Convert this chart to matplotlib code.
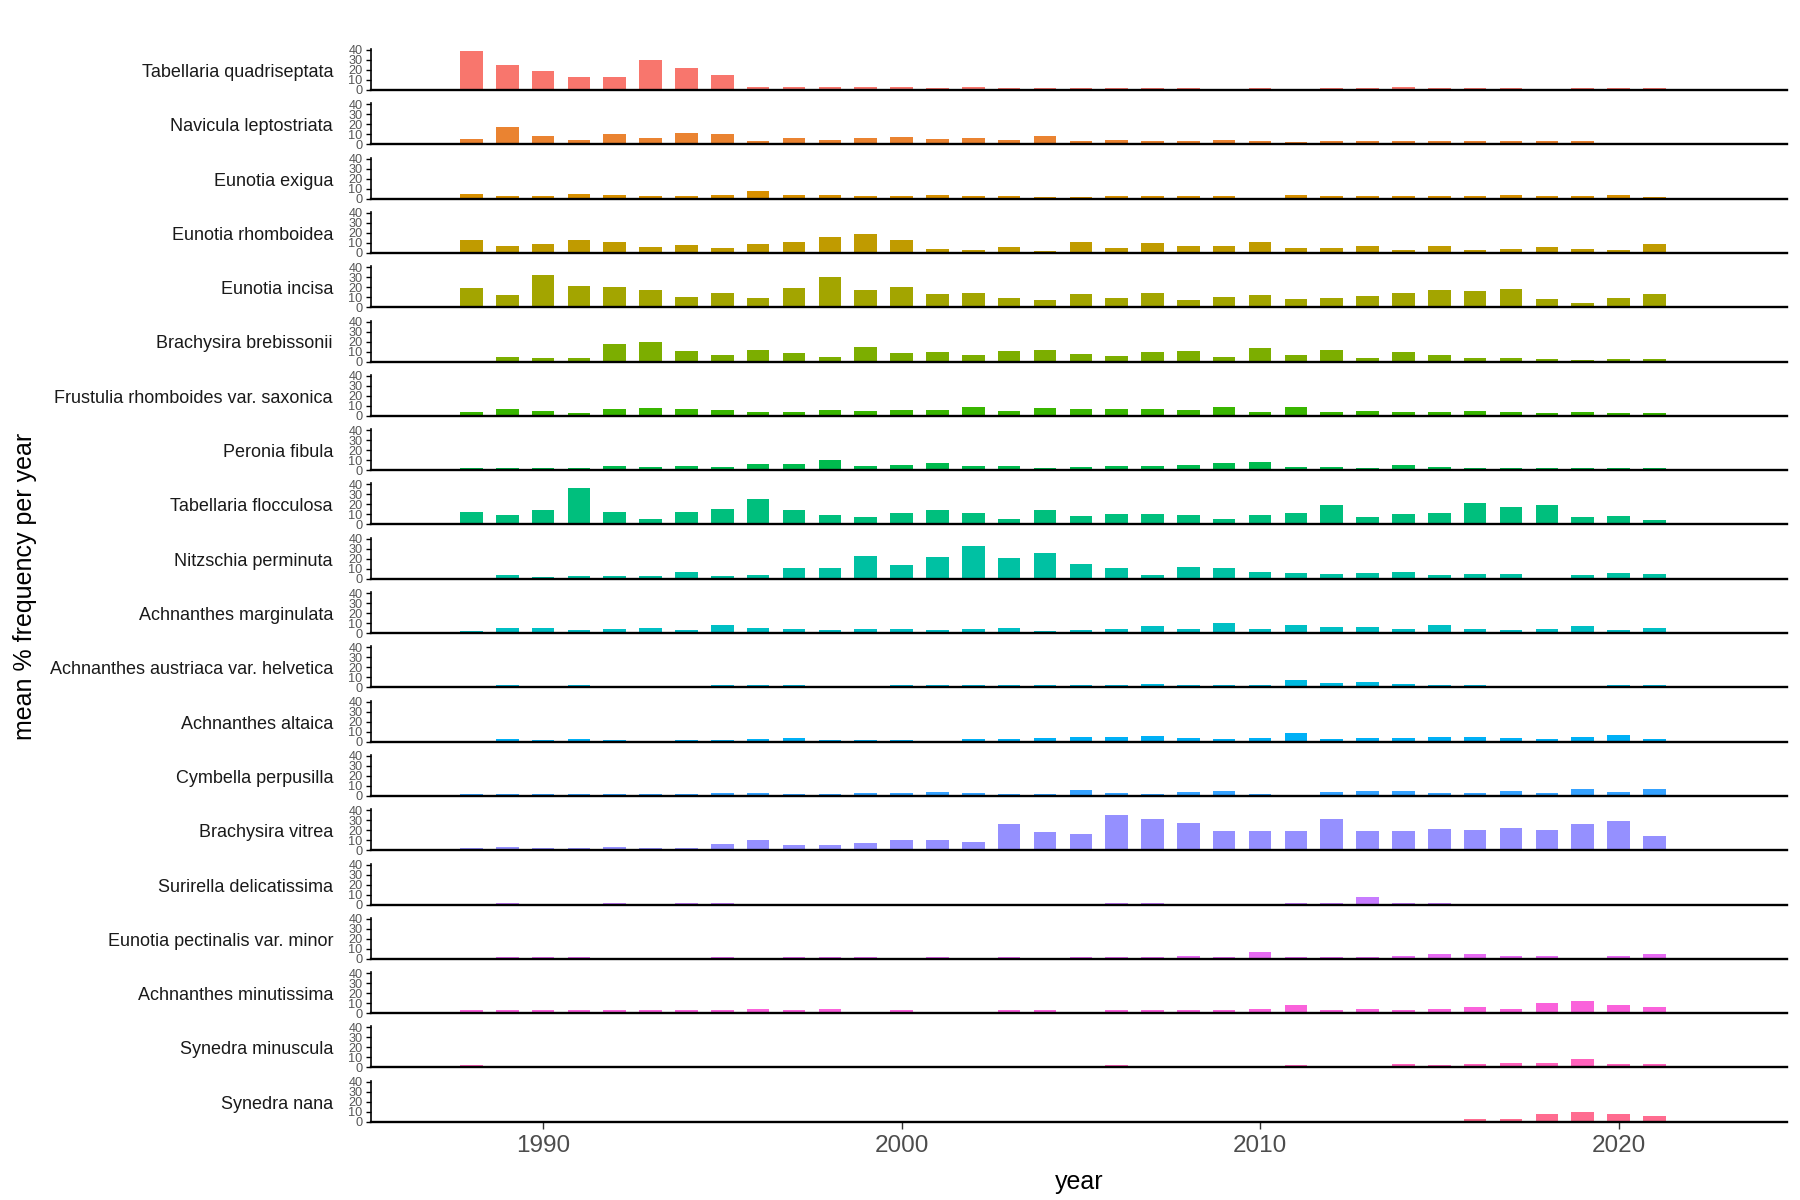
import matplotlib
matplotlib.use('Agg')
import matplotlib.pyplot as plt

# ---------------------------------------------------------------------------
# data: mean % frequency per year, one list per taxon (0 = not recorded)
# ---------------------------------------------------------------------------
years = list(range(1988, 2022))

species = ['Tabellaria quadriseptata', 'Navicula leptostriata', 'Eunotia exigua',
           'Eunotia rhomboidea', 'Eunotia incisa', 'Brachysira brebissonii',
           'Frustulia rhomboides var. saxonica', 'Peronia fibula',
           'Tabellaria flocculosa', 'Nitzschia perminuta', 'Achnanthes marginulata',
           'Achnanthes austriaca var. helvetica', 'Achnanthes altaica',
           'Cymbella perpusilla', 'Brachysira vitrea', 'Surirella delicatissima',
           'Eunotia pectinalis var. minor', 'Achnanthes minutissima',
           'Synedra minuscula', 'Synedra nana']

#            1988                         1998                          2008                          2018
tab_quad  = [39, 25, 19, 13, 13, 30, 22, 15, 3, 3, 3, 3, 3, 2, 3, 2, 2, 2, 2, 2, 2, 0, 2, 0, 2, 2, 3, 2, 2, 2, 0, 2, 2, 2]
nav_lept  = [5, 17, 8, 4, 10, 6, 11, 10, 3, 6, 4, 6, 7, 5, 6, 4, 8, 3, 4, 3, 3, 4, 3, 2, 3, 3, 3, 3, 3, 3, 3, 3, 0, 0]
eun_exig  = [5, 3, 3, 5, 4, 3, 3, 4, 8, 4, 4, 3, 3, 4, 3, 3, 2, 2, 3, 3, 3, 3, 0, 4, 3, 3, 3, 3, 3, 4, 3, 3, 4, 2]
eun_rhom  = [13, 7, 9, 13, 11, 6, 8, 5, 9, 11, 16, 19, 13, 4, 3, 6, 2, 11, 5, 10, 7, 7, 11, 5, 5, 7, 3, 7, 3, 4, 6, 4, 3, 9]
eun_inci  = [19, 12, 32, 21, 20, 17, 10, 14, 9, 19, 30, 17, 20, 13, 14, 9, 7, 13, 9, 14, 7, 10, 12, 8, 9, 11, 14, 17, 16, 18, 8, 4, 9, 13]
bra_breb  = [0, 5, 4, 4, 18, 20, 11, 7, 12, 9, 5, 15, 9, 10, 7, 11, 12, 8, 6, 10, 11, 5, 14, 7, 12, 4, 10, 7, 4, 4, 3, 2, 3, 3]
fru_saxo  = [4, 7, 5, 3, 7, 8, 7, 6, 4, 4, 6, 5, 6, 6, 9, 5, 8, 7, 7, 7, 6, 9, 4, 9, 4, 5, 4, 4, 5, 4, 3, 4, 3, 3]
per_fibu  = [2, 2, 2, 2, 4, 3, 4, 3, 6, 6, 10, 4, 5, 7, 4, 4, 2, 3, 4, 4, 5, 7, 8, 3, 3, 2, 5, 3, 2, 2, 2, 2, 2, 2]
tab_floc  = [12, 9, 14, 36, 12, 5, 12, 15, 25, 14, 9, 7, 11, 14, 11, 5, 14, 8, 10, 10, 9, 5, 9, 11, 19, 7, 10, 11, 21, 17, 19, 7, 8, 4]
nit_perm  = [0, 4, 2, 3, 3, 3, 7, 3, 4, 11, 11, 23, 14, 22, 33, 21, 26, 15, 11, 4, 12, 11, 7, 6, 5, 6, 7, 4, 5, 5, 0, 4, 6, 5]
ach_marg  = [2, 5, 5, 3, 4, 5, 3, 8, 5, 4, 3, 4, 4, 3, 4, 5, 2, 3, 4, 7, 4, 10, 4, 8, 6, 6, 4, 8, 4, 3, 4, 7, 3, 5]
ach_helv  = [0, 2, 0, 2, 0, 0, 0, 2, 2, 2, 1.5, 0, 2, 2, 2, 2, 2, 2, 2, 3, 2, 2, 2, 7, 4, 5, 3, 2, 2, 0, 1.5, 0, 2, 2]
ach_alta  = [0, 3, 2, 3, 2, 0, 2, 2, 3, 4, 2, 2, 2, 0, 3, 3, 4, 5, 5, 6, 4, 3, 4, 9, 3, 4, 4, 5, 5, 4, 3, 5, 7, 3]
cym_perp  = [2, 2, 2, 2, 2, 2, 2, 3, 3, 2, 2, 3, 3, 4, 3, 2, 2, 6, 3, 2, 4, 5, 2, 0, 4, 5, 5, 3, 3, 5, 3, 7, 4, 7]
bra_vitr  = [2, 3, 2, 2, 3, 2, 2, 6, 10, 5, 5, 7, 10, 10, 8, 26, 18, 16, 35, 31, 27, 19, 19, 19, 31, 19, 19, 21, 20, 22, 20, 26, 29, 14]
sur_deli  = [0, 1.5, 0, 0, 1.5, 0, 1.5, 1.5, 0, 0, 0, 0, 0, 0, 0, 0, 0, 0, 1.5, 1.5, 0, 0, 0, 2, 1.5, 8, 1.5, 2, 0, 0, 0, 0, 0, 0]
eun_pect  = [0, 2, 2, 2, 0, 0, 0, 2, 0, 2, 2, 2, 0, 2, 0, 2, 0, 2, 2, 2, 3, 2, 7, 2, 2, 2, 3, 5, 5, 3, 3, 0, 3, 5]
ach_minu  = [3, 3, 3, 3, 3, 3, 3, 3, 4, 3, 4, 0, 3, 0, 0, 3, 3, 0, 3, 3, 3, 3, 4, 8, 3, 4, 3, 4, 6, 4, 10, 12, 8, 6]
syn_minu  = [2, 0, 0, 0, 0, 0, 0, 0, 0, 0, 0, 0, 0, 0, 0, 0, 0, 0, 2, 0, 0, 0, 0, 2, 0, 0, 3, 2, 3, 4, 4, 8, 3, 3]
syn_nana  = [0, 0, 0, 0, 0, 0, 0, 0, 0, 0, 0, 0, 0, 0, 0, 0, 0, 0, 0, 0, 0, 0, 0, 0, 0, 0, 0, 0, 3, 3, 8, 10, 8, 6]

series = [tab_quad, nav_lept, eun_exig, eun_rhom, eun_inci, bra_breb, fru_saxo,
          per_fibu, tab_floc, nit_perm, ach_marg, ach_helv, ach_alta, cym_perp,
          bra_vitr, sur_deli, eun_pect, ach_minu, syn_minu, syn_nana]

# ggplot default hue palette, 20 levels
colours = ['#F8766D', '#EA8331', '#D89000', '#C09B00', '#A3A500', '#7CAE00',
           '#39B600', '#00BB4E', '#00BF7D', '#00C1A3', '#00BFC4', '#00BAE0',
           '#00B0F6', '#35A2FF', '#9590FF', '#C77CFF', '#E76BF3', '#FA62DB',
           '#FF62BC', '#FF6C90']

yticks = [0, 10, 20, 30, 40]
xticks = [1990, 2000, 2010, 2020]

# ---------------------------------------------------------------------------
# plot
# ---------------------------------------------------------------------------
plt.rcParams['font.family'] = ['Liberation Sans', 'DejaVu Sans']

W, H = 1800, 1200
fig = plt.figure(figsize=(18, 12), dpi=100)

left_px, right_px = 371, 1787
first_base, step, panel_h = 90, 54.3, 41

for i, (name, vals, col) in enumerate(zip(species, series, colours)):
    base = first_base + step * i
    ax = fig.add_axes([left_px / W, 1 - base / H, (right_px - left_px) / W, panel_h / H])
    ax.bar(years, vals, width=0.63, color=col, linewidth=0)
    ax.set_xlim(1985.2, 2024.7)
    ax.set_ylim(0, 41)
    ax.set_yticks(yticks)
    ax.tick_params(axis='y', length=3.6, width=1.0, pad=2.6, labelsize=9.2,
                   labelcolor='#555555', color='black')
    for s in ['top', 'right']:
        ax.spines[s].set_visible(False)
    ax.spines['bottom'].set_linewidth(1.7)
    ax.spines['left'].set_linewidth(1.2)
    ax.set_facecolor('none')
    if i == len(species) - 1:
        ax.set_xticks(xticks)
        ax.tick_params(axis='x', length=5, width=1.0, pad=4.5, labelsize=17.5,
                       labelcolor='#4D4D4D', color='#333333')
    else:
        ax.set_xticks([])
    fig.text(333 / W, 1 - (base - 17.5) / H, name, ha='right', va='center',
             fontsize=12.95, color='#1A1A1A')

fig.text(25 / W, 0.511, 'mean % frequency per year', rotation=90,
         ha='center', va='center', fontsize=18, color='black')
fig.text((left_px + right_px) / 2 / W, 1 - 1182 / H, 'year',
         ha='center', va='center', fontsize=18, color='black')

plt.savefig('out.png', dpi=100, facecolor='white')
